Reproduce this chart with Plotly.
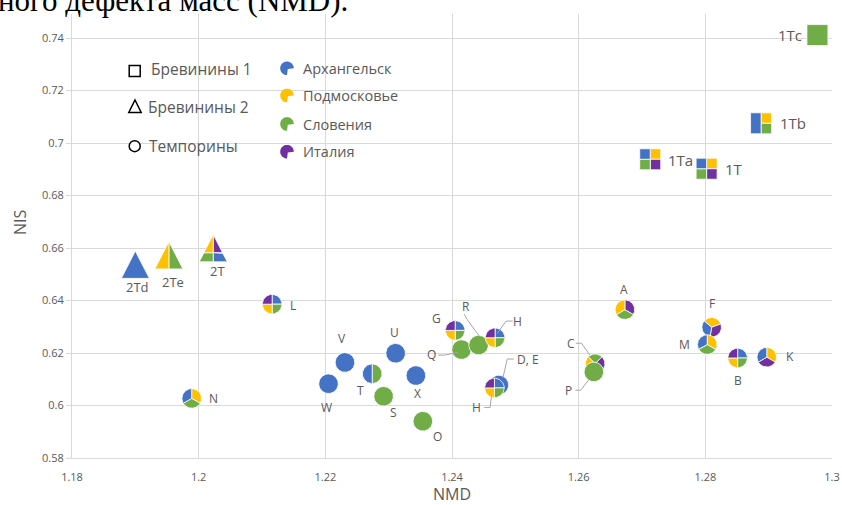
import math
import plotly.graph_objects as go

# ---------------- data ----------------
names = ["1Tc", "1Tb", "1Ta", "1T", "2Td", "2Te", "2T", "L", "N", "V", "W", "T", "U", "X",
         "S", "O", "G", "Q", "R", "H", "D, E", "H", "A", "C", "P", "F", "M", "B", "K"]
nmd = [1.2977, 1.2888, 1.2713, 1.2802, 1.1900, 1.1953, 1.2023, 1.2116, 1.1989, 1.2231, 1.2205,
       1.2274, 1.2311, 1.2343, 1.2292, 1.2354, 1.2405, 1.2415, 1.2442, 1.2468, 1.2474, 1.2467,
       1.2673, 1.2626, 1.2624, 1.2810, 1.2803, 1.2851, 1.2897]
nis = [0.7411, 0.7075, 0.6938, 0.6902, 0.6519, 0.6555, 0.6582, 0.6386, 0.6027, 0.6164, 0.6083,
       0.6121, 0.6199, 0.6114, 0.6035, 0.5940, 0.6286, 0.6213, 0.6230, 0.6258, 0.6078, 0.6067,
       0.6365, 0.6159, 0.6128, 0.6298, 0.6232, 0.6181, 0.6184]
families = ["Бревинины 1"] * 4 + ["Бревинины 2"] * 3 + ["Темпорины"] * 22
# populations present in each peptide pie (clockwise from 12 o'clock)
# A = Архангельск, P = Подмосковье, S = Словения, I = Италия
composition = ["S", "P,S,A,A", "P,I,S,A", "P,I,S,A", "A", "S,P", "I,A,S,P",
               "A,S,P,I", "P,S,A", "A", "A", "S,A", "A", "A", "S", "S",
               "A,S,P,I", "S", "S", "A,S,P,I", "A", "A,S,P,I",
               "I,S,P", "S,I,A,P", "S", "P,I,A", "P,S,A", "A,S,P,I", "P,I,A"]

groups = ["Архангельск", "Подмосковье", "Словения", "Италия"]
group_codes = ["A", "P", "S", "I"]
shape_names = ["Бревинины 1", "Бревинины 2", "Темпорины"]

x_ticks = [1.18, 1.2, 1.22, 1.24, 1.26, 1.28, 1.3]
y_ticks = [0.58, 0.6, 0.62, 0.64, 0.66, 0.68, 0.7, 0.72, 0.74]

# ---------------- styles / layout ----------------
COLORS = {"A": "#4472C4", "P": "#FFC000", "S": "#70AD47", "I": "#7030A0"}
GRAY = "#595959"
GRID = "#D9D9D9"
FONT = "Open Sans"

W, H = 842, 505
ML, MR, MT, MB = 72, 10, 14, 47
PW, PH = W - ML - MR, H - MT - MB
XR = [1.18, 1.30]
YR = [0.58, 0.58 + PH / 2625.0]
SX = PW / (XR[1] - XR[0])
SY = PH / (YR[1] - YR[0])

SHAPES = {
    "Бревинины 1": [(-10.5, 10.5), (10.5, 10.5), (10.5, -10.5), (-10.5, -10.5)],
    "Бревинины 2": [(0, 18.2), (14, -9.1), (-14, -9.1)],
    "Темпорины": None,
}
R_CIRCLE = 9.8
ROTATION = {"F": -50, "C": -45}

# label offsets (px, screen coords: +dx right, +dy down) and font sizes
LABEL_OFF = [(-27, 0), (32, 0), (30.6, 1), (27.5, 0.5), (1.7, 17.5), (3.7, 21.8), (4.3, 18.1),
             (21, 1.4), (21.6, 0), (-3, -23.5), (-2.2, 23.5), (-11.3, 17), (-1.5, -20.6),
             (1.5, 17.8), (9.5, 16.5), (15, 14.8), (-18.6, -12.2), (-29.6, 5.2), (-12.8, -38.3),
             (22.3, -16), (29, -26), (-17.6, 19.5), (-1, -20.4), (-24.6, -20.5), (-25.2, 19),
             (0.5, -24), (-22.8, -0.5), (0.5, 22.7), (23, -1)]
LABEL_SIZE = [15, 15, 15, 15, 13, 13, 13] + [12] * 22
# leader lines: point index -> polyline of px offsets (screen coords)
LEADERS = {
    17: [(-23.3, 5.5), (-16.3, 5.5), (-3.3, 2.5)],
    18: [(-14.5, -31), (-11.5, -25.7), (1.2, -8.3)],
    19: [(17.7, -16.7), (11, -16.7), (2.3, -4.4)],
    20: [(15, -26), (8.4, -26), (4, -7)],
    21: [(-10.3, 19.5), (-4.3, 19.5), (-3, 8.2)],
    23: [(-19.3, -20.5), (-13.6, -20.5), (-5.3, -8.8)],
    24: [(-18.5, 18.3), (-13.2, 18.3), (-5.2, 8)],
}


def ray_dist(poly, phi):
    dx, dy = math.sin(math.radians(phi)), math.cos(math.radians(phi))
    best = None
    n = len(poly)
    for i in range(n):
        x1, y1 = poly[i]
        x2, y2 = poly[(i + 1) % n]
        ex, ey = x2 - x1, y2 - y1
        den = dx * ey - dy * ex
        if abs(den) < 1e-12:
            continue
        # solve t*d = p1 + u*e
        t = (x1 * ey - y1 * ex) / den
        u = (dy * x1 - dx * y1) / den
        if t > 0 and -1e-9 <= u <= 1 + 1e-9:
            if best is None or t < best:
                best = t
    return best


def boundary(poly, phi):
    r = R_CIRCLE if poly is None else ray_dist(poly, phi)
    return r * math.sin(math.radians(phi)), r * math.cos(math.radians(phi))


def wedge(poly, a0, a1, full):
    n = max(2, int(abs(a1 - a0) / 2) + 1)
    angs = [a0 + (a1 - a0) * k / n for k in range(n + 1)]
    if poly is not None:
        for vx, vy in poly:
            va = math.degrees(math.atan2(vx, vy))
            for kk in range(-2, 3):
                v = va + 360 * kk
                if a0 < v < a1:
                    angs.append(v)
    angs = sorted(angs)
    pts = [boundary(poly, a) for a in angs]
    if not full:
        pts = [(0.0, 0.0)] + pts + [(0.0, 0.0)]
    else:
        pts = pts + [pts[0]]
    return pts


fig = go.Figure()

for i, nm in enumerate(names):
    codes = composition[i].split(",")
    poly = SHAPES[families[i]]
    rot = ROTATION.get(nm, 0)
    segs = []
    step = 360.0 / len(codes)
    for k, c in enumerate(codes):
        a0 = rot + k * step
        if segs and segs[-1][0] == c:
            segs[-1][2] = a0 + step
        else:
            segs.append([c, a0, a0 + step])
    full = len(segs) == 1
    for c, a0, a1 in segs:
        pts = wedge(poly, a0, a1, full)
        xs = [nmd[i] + px / SX for px, py in pts]
        ys = [nis[i] + py / SY for px, py in pts]
        fig.add_trace(go.Scatter(x=xs, y=ys, mode="lines", fill="toself",
                                 fillcolor=COLORS[c], line=dict(color="white", width=0.8),
                                 hoverinfo="skip", showlegend=False))
    if i in LEADERS:
        lx = [nmd[i] + dx / SX for dx, dy in LEADERS[i]]
        ly = [nis[i] - dy / SY for dx, dy in LEADERS[i]]
        fig.add_trace(go.Scatter(x=lx, y=ly, mode="lines",
                                 line=dict(color="#A6A6A6", width=1),
                                 hoverinfo="skip", showlegend=False))

annotations = []
for i, nm in enumerate(names):
    dx, dy = LABEL_OFF[i]
    annotations.append(dict(x=nmd[i], y=nis[i], xref="x", yref="y", text=nm, showarrow=False,
                            xanchor="center", yanchor="middle",
                            xshift=dx, yshift=-dy,
                            font=dict(family=FONT, size=LABEL_SIZE[i], color=GRAY)))


def px2p(px, py):
    return (px - ML) / PW, (H - MB - py) / PH


shapes = []
# shape legend icons
x0, y0 = px2p(129.2, 76.5)
x1, y1 = px2p(140.2, 65.5)
shapes.append(dict(type="rect", xref="paper", yref="paper", x0=x0, y0=y0, x1=x1, y1=y1,
                   line=dict(color="black", width=1.5), fillcolor="white"))
a = px2p(135, 100)
b = px2p(141.2, 112.5)
c = px2p(128.8, 112.5)
shapes.append(dict(type="path", xref="paper", yref="paper",
                   path=f"M {a[0]} {a[1]} L {b[0]} {b[1]} L {c[0]} {c[1]} Z",
                   line=dict(color="black", width=1.5), fillcolor="white"))
x0, y0 = px2p(129.2, 151.7)
x1, y1 = px2p(140.2, 140.7)
shapes.append(dict(type="circle", xref="paper", yref="paper", x0=x0, y0=y0, x1=x1, y1=y1,
                   line=dict(color="black", width=1.5), fillcolor="white"))
shape_leg_y = [68.5, 106.5, 146]
shape_leg_x = [149, 145.5, 146.5]
for k, s in enumerate(shape_names):
    px_, py_ = px2p(shape_leg_x[k], shape_leg_y[k])
    annotations.append(dict(x=px_, y=py_, xref="paper", yref="paper", text=s, showarrow=False,
                            xanchor="left", yanchor="middle",
                            font=dict(family=FONT, size=15.5, color=GRAY)))

# colour legend icons (pac-man)
col_leg_y = [68.3, 95.5, 124, 151.7]
for k, g in enumerate(groups):
    cx, cy = 287, col_leg_y[k]
    r = 6.8
    pts = []
    for d in range(0, 271, 10):
        ang = math.radians(d)
        pts.append(px2p(cx + r * math.cos(ang), cy - r * math.sin(ang)))
    pts.append(px2p(cx + 0.8, cy + 0.8))
    path = "M " + " L ".join(f"{p[0]} {p[1]}" for p in pts) + " Z"
    shapes.append(dict(type="path", xref="paper", yref="paper", path=path,
                       line=dict(width=0), fillcolor=COLORS[group_codes[k]]))
    tx, ty = px2p(301, cy)
    annotations.append(dict(x=tx, y=ty, xref="paper", yref="paper", text=g, showarrow=False,
                            xanchor="left", yanchor="middle",
                            font=dict(family=FONT, size=14.5, color=GRAY)))

# axis titles
tx, ty = px2p(20, 222)
annotations.append(dict(x=tx, y=ty, xref="paper", yref="paper", text="NIS", showarrow=False,
                        xanchor="center", yanchor="middle",
                        textangle=-90, font=dict(family=FONT, size=16, color=GRAY)))
tx, ty = px2p(452, 494)
annotations.append(dict(x=tx, y=ty, xref="paper", yref="paper", text="NMD", showarrow=False,
                        xanchor="center", yanchor="middle",
                        font=dict(family=FONT, size=16, color=GRAY)))
# clipped caption text from the surrounding document
tx, ty = px2p(-4, 19.5)
annotations.append(dict(x=tx, y=ty, xref="paper", yref="paper", text="ного дефекта масс (NMD).",
                        showarrow=False, xanchor="left", yanchor="bottom",
                        font=dict(family="Liberation Serif", size=31, color="black")))

fig.update_layout(
    width=W, height=H,
    margin=dict(l=ML, r=MR, t=MT, b=MB, autoexpand=False),
    paper_bgcolor="white", plot_bgcolor="white",
    showlegend=False,
    hovermode=False,
    xaxis=dict(range=XR, tickvals=x_ticks, ticktext=[f"{v:g}" for v in x_ticks],
               showgrid=True, gridcolor=GRID, gridwidth=1, zeroline=False,
               showline=True, linecolor=GRID, linewidth=1, automargin=False,
               ticks="outside", ticklen=9, tickcolor="rgba(0,0,0,0)",
               tickfont=dict(family=FONT, size=11, color=GRAY)),
    yaxis=dict(range=YR, tickvals=y_ticks, ticktext=[f"{v:g}" for v in y_ticks],
               showgrid=True, gridcolor=GRID, gridwidth=1, zeroline=False,
               showline=True, linecolor=GRID, linewidth=1, automargin=False,
               ticks="outside", ticklen=5, tickcolor=GRID,
               tickfont=dict(family=FONT, size=11, color=GRAY)),
    annotations=annotations,
    shapes=shapes,
)

fig.write_html("out.html", config={"displayModeBar": False, "staticPlot": True},
               post_script="document.body.style.margin='0px';document.body.style.overflow='hidden';")
